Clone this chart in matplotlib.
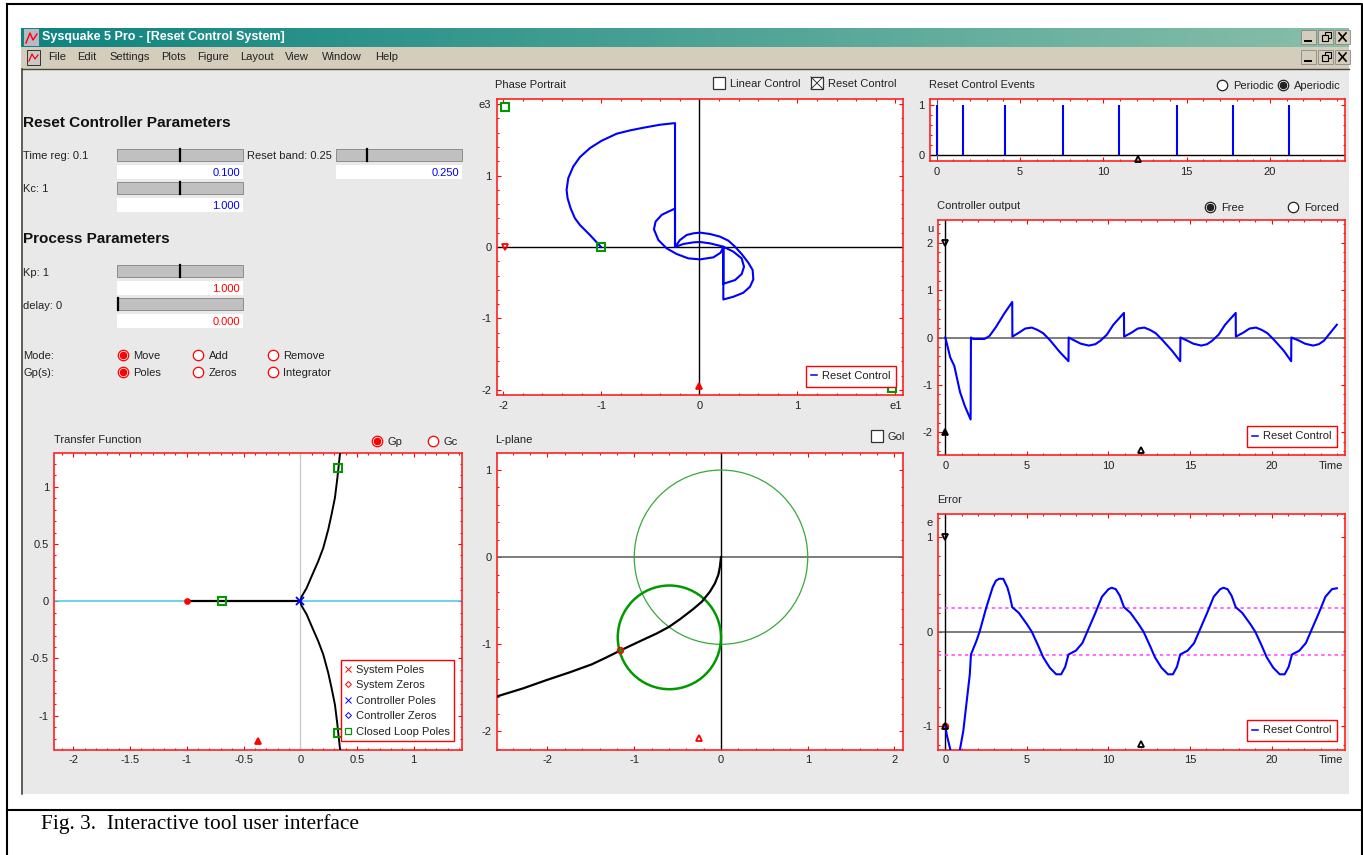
import numpy as np
import matplotlib
matplotlib.use("Agg")
import matplotlib.pyplot as plt
from matplotlib.lines import Line2D
from matplotlib.patches import Circle, Rectangle
from matplotlib.ticker import MultipleLocator

plt.rcParams["font.family"] = ["Liberation Sans", "DejaVu Sans"]
plt.rcParams["axes.unicode_minus"] = False
plt.rcParams["lines.solid_joinstyle"] = "round"

# phase portrait trajectory
phase_e1 = [-1.003, -1.116, -1.218, -1.269, -1.313, -1.344, -1.354, -1.337, -1.286, -1.218, -1.116,
            -0.997, -0.844, -0.707, -0.571, -0.401, -0.248,
            -0.248, -0.197, -0.129, -0.061, 0.007, 0.109, 0.211, 0.296, 0.364, 0.432, 0.5, 0.544,
            0.551, 0.517, 0.449, 0.347, 0.245,
            0.245, 0.218, 0.143, 0.007, -0.112, -0.231, -0.333, -0.418, -0.463, -0.446, -0.384, -0.316, -0.248,
            -0.248, -0.163, -0.061, 0.007, 0.109, 0.245, 0.347, 0.432, 0.456, 0.432, 0.364, 0.245, 0.245]
phase_e3 = [0, 0.168, 0.308, 0.402, 0.542, 0.682, 0.799, 0.963, 1.126, 1.257, 1.383,
            1.486, 1.584, 1.631, 1.668, 1.71, 1.733,
            0, 0.098, 0.168, 0.191, 0.201, 0.182, 0.145, 0.089, 0.005, -0.098, -0.22, -0.322,
            -0.453, -0.556, -0.64, -0.696, -0.734,
            0, -0.079, -0.145, -0.173, -0.159, -0.098, -0.019, 0.098, 0.248, 0.355, 0.449, 0.495, 0.537,
            0, 0.042, 0.065, 0.07, 0.051, 0.005, -0.065, -0.159, -0.276, -0.379, -0.463, -0.514, 0]

# reset instants
events_t = [0, 1.6, 4.1, 7.55, 10.95, 14.4, 17.8, 21.15]

# controller output
u_t = [0, 0.3, 0.55, 0.9, 1.2, 1.55, 1.57, 1.7, 2.4, 2.7, 3.1, 3.6, 4.1,
       4.11, 4.5, 4.9, 5.3, 5.65, 6, 6.4, 7, 7.55, 7.56, 7.9, 8.3, 8.8, 9.2, 9.5, 9.9, 10.3, 10.95,
       10.96, 11.4, 11.8, 12.2, 12.55, 12.9, 13.3, 13.9, 14.4, 14.41, 14.8, 15.2, 15.7, 16.05, 16.35,
       16.75, 17.15, 17.8, 17.81, 18.25, 18.65, 19.05, 19.4, 19.75, 20.15, 20.75, 21.2, 21.21,
       21.65, 22.05, 22.55, 22.9, 23.2, 23.6, 24]
u_val = [0, -0.42, -0.6, -1.15, -1.45, -1.73, 0, -0.03, -0.03, 0.03, 0.22, 0.5, 0.75,
         0.02, 0.1, 0.19, 0.21, 0.16, 0.09, -0.05, -0.3, -0.5, 0, -0.06, -0.13, -0.17, -0.14, -0.07,
         0.06, 0.27, 0.52,
         0.02, 0.1, 0.19, 0.21, 0.16, 0.09, -0.05, -0.28, -0.5, 0, -0.06, -0.13, -0.17, -0.14, -0.07,
         0.06, 0.27, 0.52, 0.02, 0.1, 0.19, 0.21, 0.16, 0.09, -0.05, -0.28, -0.5, 0,
         -0.06, -0.13, -0.17, -0.14, -0.07, 0.1, 0.27]

# error
e_t = [0, 0.1, 0.3, 0.5, 0.7, 0.9, 1.1, 1.3, 1.5, 1.57, 1.9, 2.1, 2.5, 2.9, 3.1, 3.3, 3.55, 3.8, 3.95,
       4.1, 4.5, 5, 5.3, 5.7, 6, 6.4, 6.8, 7.1, 7.35, 7.55, 8, 8.4, 8.7, 9.2, 9.6, 10, 10.2, 10.45, 10.7,
       10.95, 11.35, 11.85, 12.15, 12.55, 12.85, 13.25, 13.65, 13.95, 14.2, 14.4, 14.85, 15.25,
       15.55, 16.05, 16.45, 16.85, 17.05, 17.3, 17.55, 17.8, 18.2, 18.7, 19, 19.4, 19.7, 20.1, 20.5,
       20.8, 21.05, 21.25, 21.7, 22.1, 22.4, 22.9, 23.3, 23.7, 24]
e_val = [-1, -1.1, -1.24, -1.45, -1.45, -1.24, -1.05, -0.75, -0.45, -0.24, -0.1, 0, 0.25, 0.47, 0.54,
         0.56, 0.56, 0.47, 0.38, 0.26, 0.2, 0.08, 0, -0.15, -0.27, -0.38, -0.45, -0.45, -0.37, -0.24,
         -0.2, -0.12, 0, 0.2, 0.37, 0.45, 0.465, 0.45, 0.38, 0.26, 0.2, 0.08, 0, -0.15, -0.27, -0.38,
         -0.45, -0.45, -0.37, -0.24, -0.2, -0.12, 0, 0.2, 0.37, 0.45, 0.465, 0.45, 0.38, 0.26, 0.2, 0.08,
         0, -0.15, -0.27, -0.38, -0.45, -0.45, -0.37, -0.24, -0.2, -0.12, 0, 0.2, 0.37, 0.45, 0.46]
reset_band = [0.25, -0.25]

# root locus
locus_re = [0.355, 0.35, 0.326, 0.306, 0.276, 0.247, 0.203, 0.159, 0.1, 0.056, 0.012, 0]
locus_im = [1.3, 1.284, 1.064, 0.904, 0.757, 0.626, 0.465, 0.35, 0.216, 0.114, 0.04, 0]
locus_im_low = [-1.3, -1.284, -1.064, -0.904, -0.757, -0.626, -0.465, -0.35, -0.216, -0.114, -0.04, 0]
locus_real = [-1, 0]
cl_poles_re = [-0.69, 0.335, 0.335]
cl_poles_im = [0, 1.16, -1.15]

# L-plane
l_re = [0, -0.012, -0.03, -0.07, -0.127, -0.22, -0.32, -0.47, -0.6, -0.74, -0.86, -1.01, -1.165, -1.32,
        -1.49, -1.74, -2.01, -2.28, -2.59]
l_im = [0, -0.107, -0.2, -0.3, -0.395, -0.51, -0.595, -0.71, -0.8, -0.875, -0.93, -1.0, -1.073, -1.15,
        -1.23, -1.32, -1.41, -1.505, -1.6]
unit_center = (0, 0)
unit_radius = 1
gain_center = (-0.595, -0.92)
gain_radius = 0.595

menu_items = ["File", "Edit", "Settings", "Plots", "Figure", "Layout", "View", "Window", "Help"]
menu_x = [48, 77, 109, 161, 197, 240, 285, 322, 375]

BLUE = "#0000ff"
RED = "#ff0000"
GREEN = "#009a00"
TXT = "#222222"
W, H = 1363, 855

fig = plt.figure(figsize=(W / 100, H / 100), dpi=100, facecolor="white")
bg = fig.add_axes([0, 0, 1, 1], zorder=0)
bg.axis("off")


def rect(x0, y0, x1, y1, fc, ec="none", lw=0.0, z=1):
    bg.add_patch(Rectangle((x0, y0), x1 - x0, y1 - y0, facecolor=fc, edgecolor=ec, linewidth=lw, zorder=z))


def label(x, y, s, size=8, color=TXT, ha="left", **kw):
    bg.text(x, y + 1, s, fontsize=size, color=color, ha=ha, va="center", zorder=5, **kw)


def slider(y, knob, x0=117, x1=243, val="", color=BLUE):
    rect(x0, y, x1, y + 12, "#c0c0c0", "#8c8c8c", 0.7)
    bg.plot([knob, knob], [y, y + 12], color="black", lw=1.6, zorder=4)
    rect(x0, y + 16, x1, y + 30, "white")
    label(x1 - 3, y + 23, val, color=color, ha="right")


def radio(x, y, s, on=False, color=RED, tx=11):
    bg.plot([x], [y], "o", ms=7.5, mfc="white", mec=color, mew=0.9, zorder=4)
    if on:
        bg.plot([x], [y], "o", ms=4.5, mfc=color, mec=color, zorder=5)
    label(x + tx, y, s)


def check(x, y, s, on=False):
    rect(x, y, x + 12, y + 12, "white", "#333333", 0.9, z=4)
    if on:
        bg.plot([x, x + 12], [y, y + 12], color="#333333", lw=0.7, zorder=5)
        bg.plot([x, x + 12], [y + 12, y], color="#333333", lw=0.7, zorder=5)
    label(x + 17, y + 6, s)


# page frame and window
bg.plot([7, 7], [4, H], color="black", lw=1.5)
bg.plot([7, 1362, 1362], [4, 4, H], color="black", lw=1.5)
bg.plot([7, 1362], [810, 810], color="black", lw=1.5)
rect(21, 69, 1349, 794, "#e9e9e9")
rect(21, 47, 1349, 69, "#d4cdbb")
bg.plot([22, 1349], [69, 69], color="#4a4638", lw=1)
bg.plot([22, 22], [69, 794], color="#3c382c", lw=1.1, zorder=3)

grad = np.linspace(0, 1, 256).reshape(1, -1)
cmap = matplotlib.colors.LinearSegmentedColormap.from_list("tb", ["#0e8480", "#88bfa9"])
bg.imshow(grad, extent=(21, 1349, 47, 28), aspect="auto", cmap=cmap, zorder=2)
bg.set_xlim(0, W)
bg.set_ylim(H, 0)

# window icons and buttons
rect(24, 29, 39, 46, "#b8b8c8", z=3)
bg.plot([26, 30, 33, 37], [43, 33, 40, 34], color=RED, lw=1, zorder=4)
rect(27, 50, 40, 65, "#c8c8c8", "#333333", 0.7, z=3)
bg.plot([29, 32, 35, 38], [61, 54, 59, 55], color=RED, lw=0.9, zorder=4)
label(42, 36, "Sysquake 5 Pro - [Reset Control System]", size=9, color="white", fontweight="bold")
for x, s in zip(menu_x, menu_items):
    label(x, 56, s)
for y in [30, 50]:
    for x0 in [1301, 1318, 1335]:
        rect(x0, y, x0 + 15, y + 14, "#d4cdbb", "#888888", 0.6, z=3)
    bg.plot([1305, 1311], [y + 11, y + 11], color="black", lw=1.4, zorder=5)
    rect(1325, y + 2, 1331, y + 8, "none", "black", 0.8, z=5)
    rect(1322, y + 5, 1328, y + 11, "#d4cdbb", "black", 0.8, z=6)
    bg.plot([1339, 1346], [y + 3, y + 11], color="black", lw=1.2, zorder=5)
    bg.plot([1339, 1346], [y + 11, y + 3], color="black", lw=1.2, zorder=5)

# parameter area
label(23, 122, "Reset Controller Parameters", size=11.1, color="#111111", fontweight="bold")
label(23, 238, "Process Parameters", size=11, color="#111111", fontweight="bold")
label(23, 155, "Time reg: 0.1")
label(247, 155, "Reset band: 0.25")
label(23, 188, "Kc: 1")
label(23, 272, "Kp: 1")
label(23, 305, "delay: 0")
label(23, 355, "Mode:")
label(23, 372, "Gp(s):")
slider(149, 179.5, val="0.100")
slider(149, 367, 336, 462, val="0.250")
slider(182, 179.5, val="1.000")
slider(265, 179.5, val="1.000", color=RED)
slider(298, 117.5, val="0.000", color=RED)
for ry, names, first in [(355, ["Move", "Add", "Remove"], True), (372, ["Poles", "Zeros", "Integrator"], True)]:
    for rx, nm, on in zip([122.5, 197.5, 272.5], names, [first, False, False]):
        radio(rx, ry, nm, on)

# captions over the plots
label(495, 84, "Phase Portrait")
check(713, 77, "Linear Control")
check(811, 77, "Reset Control", on=True)
label(929, 84, "Reset Control Events")
radio(1222, 85, "Periodic", color="#222222")
radio(1283, 85, "Aperiodic", on=True, color="#222222")
label(937, 205, "Controller output")
radio(1210, 207, "Free", on=True, color="#222222")
radio(1293, 207, "Forced", color="#222222")
label(937, 499, "Error")
label(54, 439, "Transfer Function")
radio(376.5, 441, "Gp", on=True)
radio(433, 441, "Gc")
label(495, 439, "L-plane")
check(871, 430, "Gol")
label(1331, 465, "Time", ha="center")
label(1331, 759, "Time", ha="center")
label(930, 228, "u", ha="center")
label(930, 522, "e", ha="center")
bg.text(41, 824, "Fig. 3.  Interactive tool user interface", fontsize=15.4, color="black",
        family="Liberation Serif", va="center", zorder=5)


def panel(x0, y0, x1, y1, xlim, ylim, xmaj, ymaj, xmin, ymin):
    ax = fig.add_axes([x0 / W, 1 - y1 / H, (x1 - x0) / W, (y1 - y0) / H], zorder=2)
    ax.set_xlim(*xlim)
    ax.set_ylim(*ylim)
    ax.xaxis.set_major_locator(MultipleLocator(xmaj))
    ax.yaxis.set_major_locator(MultipleLocator(ymaj))
    ax.xaxis.set_minor_locator(MultipleLocator(xmin))
    ax.yaxis.set_minor_locator(MultipleLocator(ymin))
    ax.tick_params(which="both", direction="in", top=True, right=True, color=RED, width=0.8)
    ax.tick_params(which="major", length=3.2, labelsize=8, labelcolor=TXT, pad=4)
    ax.tick_params(which="minor", length=1.6)
    for sp in ax.spines.values():
        sp.set_color("#ff2020")
        sp.set_linewidth(1.2)
    return ax


def red_legend(ax, handles, right, bottom, spacing=0.3, pad=0.5):
    leg = ax.legend(handles=handles, loc="lower right", bbox_to_anchor=(right, bottom), fontsize=8,
                    fancybox=False, framealpha=1, edgecolor=RED, borderpad=pad, labelspacing=spacing,
                    handlelength=0.55, handletextpad=0.4, labelcolor=TXT, borderaxespad=0)
    leg.get_frame().set_linewidth(1.0)
    leg.set_zorder(20)


def mark(ax, x, y, m, c, ms=5, **kw):
    ax.plot(x, y, m, mfc=kw.pop("mfc", "none"), mec=c, mew=kw.pop("mew", 1.3), ms=ms, zorder=6, clip_on=False, **kw)


reset_handle = [Line2D([], [], color=BLUE, lw=1.1, label="Reset Control")]

# phase portrait
ax = panel(497, 99, 903, 395, (-2.064, 2.078), (-2.07, 2.07), 1, 1, 0.2, 0.2)
ax.axhline(0, color="black", lw=1)
ax.axvline(0, color="black", lw=1)
ax.plot(phase_e1, phase_e3, color=BLUE, lw=1.5, zorder=4)
mark(ax, [-1.98, -1, 1.97], [1.96, 0, -1.97], "s", GREEN, ms=5.5, mew=1.5)
mark(ax, [-1.98], [0], "v", RED, ms=4.5)
mark(ax, [0], [-1.95], "^", RED, ms=5, mfc=RED)
ax.set_xticks([-2, -1, 0, 1, 2], ["-2", "-1", "0", "1", "e1"])
ax.set_yticks([-2, -1, 0, 1, 2], ["-2", "-1", "0", "1", "e3"])
red_legend(ax, reset_handle, 0.982, 0.028)

# reset events
ax = panel(930, 99.5, 1345, 161.5, (-0.4, 24.5), (-0.13, 1.12), 5, 1, 1, 0.2)
ax.axhline(0, color="black", lw=1)
ax.axvline(0, color="#555555", lw=0.8)
ax.vlines(events_t, 0, 1, color=BLUE, lw=1.5, zorder=4)
mark(ax, [12.05], [-0.07], "^", "black", ms=4)

# controller output
ax = panel(938, 220.5, 1345, 455.5, (-0.45, 24.5), (-2.49, 2.47), 5, 1, 1, 0.2)
ax.axhline(0, color="#666666", lw=1.2)
ax.axvline(0, color="black", lw=1)
ax.plot(u_t, u_val, color=BLUE, lw=1.5, zorder=4)
mark(ax, [0], [2], "v", "black", ms=4.5)
mark(ax, [0], [-2], "^", "black", ms=4.5, mfc="black")
mark(ax, [12], [-2.38], "^", "black", ms=4)
red_legend(ax, reset_handle, 0.98, 0.036)

# error
ax = panel(938, 514, 1345, 749.5, (-0.45, 24.5), (-1.245, 1.245), 5, 1, 1, 0.2)
ax.axhline(0, color="#666666", lw=1.2)
ax.axvline(0, color="black", lw=1)
for b in reset_band:
    ax.axhline(b, color="#ff40ff", lw=1.1, ls=(0, (2.2, 2.2)))
ax.plot(e_t, e_val, color=BLUE, lw=1.5, zorder=4)
mark(ax, [0], [1], "v", "black", ms=4.5)
mark(ax, [0], [-1], "o", RED, ms=4)
mark(ax, [0], [-1], "^", "black", ms=4)
mark(ax, [12], [-1.19], "^", "black", ms=4)
red_legend(ax, reset_handle, 0.98, 0.036)

# transfer function
ax = panel(54.5, 453.5, 462, 749.5, (-2.166, 1.426), (-1.295, 1.29), 0.5, 0.5, 0.1, 0.1)
ax.set_xticks(np.arange(-2, 1.5, 0.5), ["-2", "-1.5", "-1", "-0.5", "0", "0.5", "1"])
ax.set_yticks([-1, -0.5, 0, 0.5, 1], ["-1", "-0.5", "0", "0.5", "1"])
ax.axhline(0, color="#45c8e6", lw=1.1)
ax.axvline(0, color="#c8c8c8", lw=0.9)
ax.plot(locus_real, [0, 0], color="black", lw=1.6, zorder=4)
ax.plot(locus_re, locus_im, color="black", lw=1.4, zorder=4)
ax.plot(locus_re, locus_im_low, color="black", lw=1.4, zorder=4)
mark(ax, [-1], [0], "o", RED, ms=3.5, mfc=RED)
mark(ax, cl_poles_re, cl_poles_im, "s", GREEN, ms=5.5, mew=1.5)
mark(ax, [0], [0], "x", BLUE, ms=6)
mark(ax, [-0.375], [-1.225], "^", RED, ms=5, mfc=RED)
pole_handles = [
    Line2D([], [], ls="none", marker="x", color=RED, ms=5, mew=0.7, label="System Poles"),
    Line2D([], [], ls="none", marker="D", mfc="none", mec=RED, ms=3, mew=0.7, label="System Zeros"),
    Line2D([], [], ls="none", marker="x", color=BLUE, ms=5, mew=0.7, label="Controller Poles"),
    Line2D([], [], ls="none", marker="D", mfc="none", mec=BLUE, ms=3, mew=0.7, label="Controller Zeros"),
    Line2D([], [], ls="none", marker="s", mfc="none", mec=GREEN, ms=5, mew=0.9, label="Closed Loop Poles"),
]
red_legend(ax, pole_handles, 0.98, 0.028, spacing=0.5, pad=0.4)

# L-plane
ax = panel(497, 453.5, 903, 749.5, (-2.582, 2.098), (-2.207, 1.19), 1, 1, 0.2, 0.2)
ax.axhline(0, color="#666666", lw=1.2)
ax.axvline(0, color="black", lw=1)
ax.add_patch(Circle(unit_center, unit_radius, fill=False, ec="#3aa83a", lw=0.9, zorder=3))
ax.add_patch(Circle(gain_center, gain_radius, fill=False, ec=GREEN, lw=1.8, zorder=3))
ax.plot(l_re, l_im, color="black", lw=1.6, zorder=4)
mark(ax, [-1.16], [-1.07], "o", RED, ms=4)
mark(ax, [-1.16], [-1.07], "o", GREEN, ms=1.5)
mark(ax, [-0.25], [-2.08], "^", RED, ms=5)

fig.savefig("out.png", dpi=100)
